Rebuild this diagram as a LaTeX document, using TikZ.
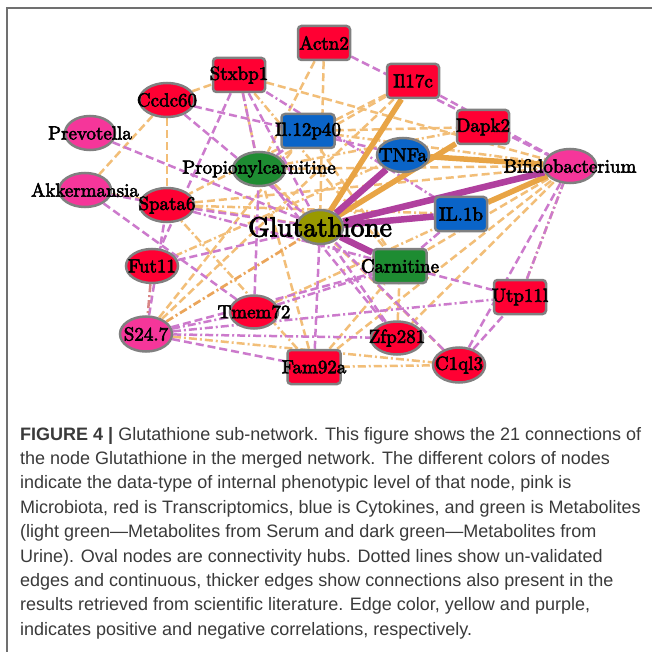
\documentclass[tikz,border=0pt]{standalone}
\usepackage{fontspec}
\usetikzlibrary{shapes.geometric,backgrounds}
\newfontfamily\labfont{lmroman10-regular}[Extension=.otf,FakeBold=3]
\newfontfamily\capfont{Liberation Sans}
\definecolor{nred}{HTML}{FF0033}
\definecolor{npink}{HTML}{F5369A}
\definecolor{nblue}{HTML}{0A64C8}
\definecolor{ngreen}{HTML}{1E8C32}
\definecolor{nolive}{HTML}{999900}
\definecolor{nborder}{HTML}{808080}
\definecolor{tko}{HTML}{E8A445}
\definecolor{tkp}{HTML}{B0409E}
\definecolor{dso}{HTML}{F2BE78}
\definecolor{dso2}{HTML}{EBA55A}
\definecolor{dsp}{HTML}{CC7ACC}
\definecolor{dsr}{HTML}{D98585}
\definecolor{framecol}{HTML}{707070}
\definecolor{captext}{HTML}{3A3A3A}
\tikzset{
  base/.style={draw=nborder, line width=2.5pt, inner sep=0pt, minimum width=52pt, minimum height=34pt},
  rbox/.style={base, rectangle, rounded corners=3.5pt},
  oval/.style={base, ellipse},
  lab/.style={font=\labfont\fontsize{19}{19}\selectfont, text=black, inner sep=0pt},
  biglab/.style={font=\labfont\fontsize{27.5}{27.5}\selectfont, text=black, inner sep=0pt},
  dashO/.style={draw=dso, line width=2.5pt, dash pattern=on 8pt off 4pt},
  dashP/.style={draw=dsp, line width=2.5pt, dash pattern=on 8pt off 4pt},
  ddO/.style={draw=dso, line width=2.5pt, dash pattern=on 8pt off 3pt on 2pt off 3pt},
  ddP/.style={draw=dsp, line width=2.5pt, dash pattern=on 8pt off 3pt on 2pt off 3pt},
  ddO2/.style={draw=dso2, line width=2.7pt, dash pattern=on 8pt off 3pt on 2pt off 3pt},
  ddR/.style={draw=dsr, line width=2.5pt, dash pattern=on 8pt off 3pt on 2pt off 3pt},
  thickO/.style={draw=tko, line width=5.5pt},
  thickP/.style={draw=tkp, line width=6.5pt},
  capline/.style={anchor=base west, inner sep=0pt, text=captext, font=\capfont\fontsize{18}{18}\selectfont},
}
\begin{document}
\begin{tikzpicture}[x=1pt,y=-1pt]
\useasboundingbox (0,0) rectangle (652,652);
\draw[framecol, line width=1.5pt] (7,652) -- (7,8) -- (652,8);

% nodes
\node[rbox, fill=nred,  label={[lab]center:Actn2}] (actn) at (324,43) {};
\node[rbox, fill=nred,  label={[lab]center:Stxbp1}] (stx) at (239,75) {};
\node[rbox, fill=nred,  label={[lab]center:Il17c}] (ilc) at (413,81) {};
\node[rbox, fill=nred,  label={[lab]center:Dapk2}] (dap) at (483,127) {};
\node[oval, fill=nred,  minimum width=55pt, label={[lab]center:Ccdc60}] (ccd) at (167,100) {};
\node[oval, fill=npink, minimum width=50pt, label={[lab]center:Prevotella}] (prev) at (90,133) {};
\node[rbox, fill=nblue, minimum width=53pt, label={[lab]center:Il.12p40}] (il12) at (308,131) {};
\node[oval, fill=nblue, label={[lab]center:TNFa}] (tnf) at (403,155) {};
\node[oval, fill=npink, label={[lab]center:Bifidobacterium}] (bif) at (570,166) {};
\node[oval, fill=ngreen, label={[lab]center:Propionylcarnitine}] (prop) at (259,169) {};
\node[oval, fill=npink, label={[lab]center:Akkermansia}] (akk) at (85,190) {};
\node[oval, fill=nred,  minimum width=54pt, label={[lab]center:Spata6}] (spa) at (167,205) {};
\node[oval, fill=nolive, minimum width=46pt, label={[biglab]center:Glutathione}] (glu) at (320,227) {};
\node[rbox, fill=nblue, label={[lab]center:IL.1b}] (il1b) at (461,214) {};
\node[rbox, fill=ngreen, minimum width=53pt, label={[lab]center:Carnitine}] (carn) at (400,266) {};
\node[oval, fill=nred,  label={[lab]center:Fut11}] (fut) at (152,266) {};
\node[oval, fill=nred,  minimum width=48pt, minimum height=33pt, label={[lab]center:Tmem72}] (tmem) at (254,312) {};
\node[oval, fill=npink, minimum height=35pt, label={[lab]center:S24.7}] (s247) at (146,334) {};
\node[rbox, fill=nred,  minimum width=53pt, label={[lab]center:Fam92a}] (fam) at (314,367) {};
\node[oval, fill=nred,  minimum height=33pt, label={[lab]center:Zfp281}] (zfp) at (397,338) {};
\node[oval, fill=nred,  minimum height=35pt, label={[lab]center:C1ql3}] (cql) at (459,365) {};
\node[rbox, fill=nred,  label={[lab]center:Utp11l}] (utp) at (520,297) {};

\begin{pgfonlayer}{background}
\fill[white] (0,0) rectangle (652,652);
\foreach \a/\b in {actn/prop, actn/glu, stx/bif, stx/prop, ccd/akk, ccd/spa, ccd/stx, il12/dap, ilc/prop, prop/bif, akk/glu, spa/bif, s247/ilc, s247/il12, fam/bif, fam/carn, zfp/carn, zfp/bif, cql/prop, carn/bif, fam/prop, il12/carn, ilc/spa}
  \draw[dashO] (\a) -- (\b);
\foreach \a/\b in {stx/carn, spa/il1b, s247/cql, fam/cql, fam/spa, utp/bif, fut/tnf, tmem/bif, il12/bif, prop/dap}
  \draw[ddO] (\a) -- (\b);
\foreach \a/\b in {actn/bif, ilc/bif, ccd/tnf, ccd/glu, prev/glu, stx/fut, stx/glu, akk/tmem, akk/spa, spa/glu, fut/glu, s247/spa, s247/carn, s247/fam, tmem/prop, fam/glu, zfp/glu, cql/glu, cql/utp, carn/utp, prop/il12, bif/cql, prop/zfp}
  \draw[dashP] (\a) -- (\b);
\foreach \a/\b in {stx/il1b, spa/carn, s247/tmem, s247/utp, s247/zfp, tmem/carn, utp/bif, carn/il1b, stx/prop}
  \draw[ddP] (\a) -- (\b);
\draw[ddO2] (s247) -- (glu);
\draw[ddR] (fut) -- (s247);
% thick edges
\draw[thickO] (glu) -- (ilc);
\draw[thickO] (glu) -- (dap);
\draw[thickO] (tnf) -- (bif);
\draw[thickO] (il1b) -- (bif);
\draw[thickP] (glu) -- (tnf);
\draw[thickP] (glu) -- (bif);
\draw[thickP] (glu) -- (il1b);
\draw[thickP] (glu) -- (carn);
\end{pgfonlayer}

% caption
\node[capline] (c1) at (20,440) {\textbf{FIGURE 4 |} Glutathione sub-network. This figure shows the 21 connections of};
\node[capline] (c2) at (20,464.4) {the node Glutathione in the merged network. The different colors of nodes};
\node[capline] (c3) at (20,488.8) {indicate the data-type of internal phenotypic level of that node, pink is};
\node[capline] (c4) at (20,513.2) {Microbiota, red is Transcriptomics, blue is Cytokines, and green is Metabolites};
\node[capline] (c5) at (20,537.6) {(light green—Metabolites from Serum and dark green—Metabolites from};
\node[capline] (c6) at (20,562) {Urine). Oval nodes are connectivity hubs. Dotted lines show un-validated};
\node[capline] (c7) at (20,586.4) {edges and continuous, thicker edges show connections also present in the};
\node[capline] (c8) at (20,610.8) {results retrieved from scientific literature. Edge color, yellow and purple,};
\node[capline] (c9) at (20,635.2) {indicates positive and negative correlations, respectively.};
\end{tikzpicture}
\end{document}
